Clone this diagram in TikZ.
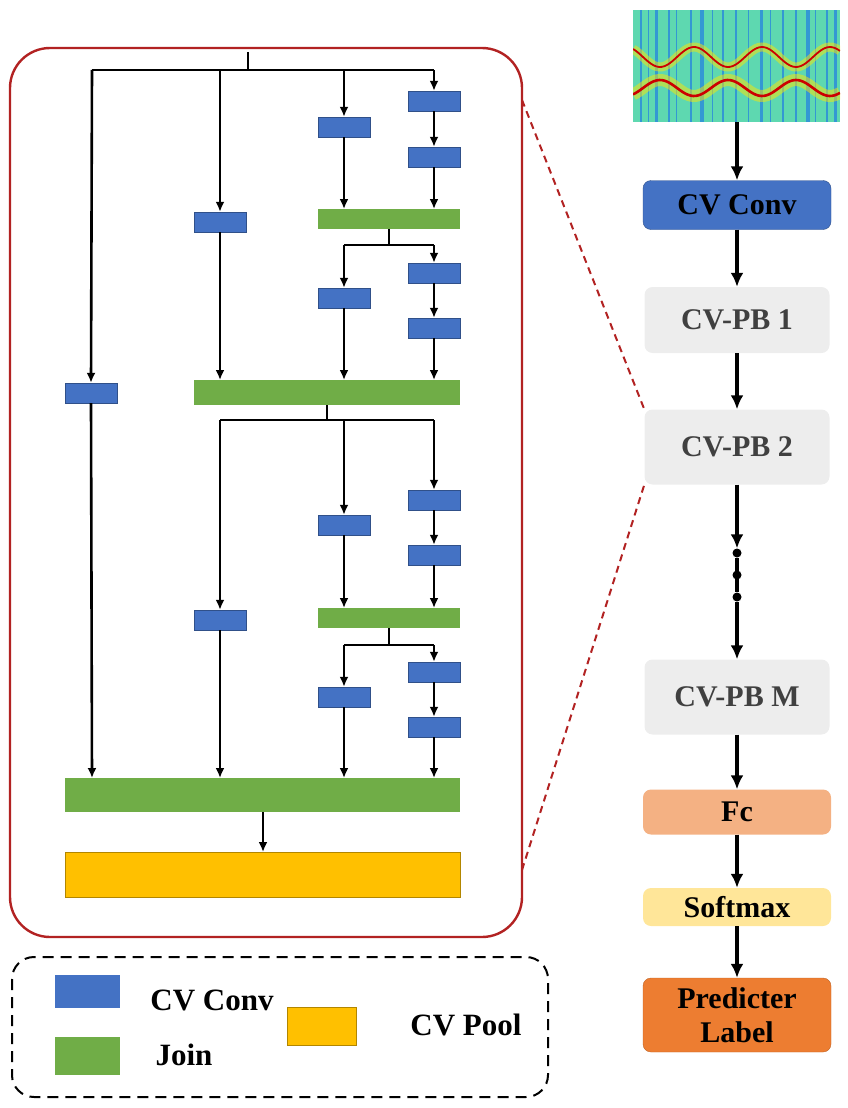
\documentclass[tikz,border=0pt]{standalone}
\usepackage{fontspec}
\setmainfont{Liberation Serif}
\usetikzlibrary{arrows.meta}
\definecolor{cvblue}{HTML}{4472C4}
\definecolor{cvgreen}{HTML}{70AD47}
\definecolor{cvyellow}{HTML}{FFC000}
\definecolor{pbgray}{HTML}{EDEDED}
\definecolor{fcc}{HTML}{F4B183}
\definecolor{smc}{HTML}{FFE699}
\definecolor{plc}{HTML}{ED7D31}
\definecolor{frame}{HTML}{B22222}
\definecolor{specbg}{HTML}{5ED8B0}
\tikzset{
 blk/.style={draw=cvblue!70!black,line width=0.4pt,fill=cvblue,minimum width=52pt,minimum height=20pt,inner sep=0pt},
 grn/.style={fill=cvgreen,inner sep=0pt,anchor=north west},
 ar/.style={line width=2.6pt,-{Latex[length=10pt,width=9pt]}},
 ln/.style={line width=2.6pt},
 rar/.style={line width=3.4pt,-{Latex[length=14pt,width=13pt]}},
 rbox/.style={rounded corners=8pt,minimum width=188pt,font=\fontsize{30}{34}\selectfont\bfseries,align=center,inner sep=0pt},
 lab/.style={font=\fontsize{31}{36}\selectfont\bfseries}
}
\begin{document}
\begin{tikzpicture}[x=1pt,y=-1pt]
\useasboundingbox (0,0) rectangle (848,1108);
% frame
\draw[frame,line width=2.4pt,rounded corners=40pt] (10,48) rectangle (522,937);
% blocks
\newcommand{\bb}[3]{\node[blk] (#1) at (#2,#3) {};}
\bb{a1}{434}{101}\bb{a2}{344}{127}\bb{a3}{434}{157}\bb{a4}{220}{222}
\bb{b1}{434}{273}\bb{b2}{344}{298}\bb{b3}{434}{328}\bb{left}{91}{393}
\bb{c1}{434}{500}\bb{c2}{344}{525}\bb{c3}{434}{555}\bb{c4}{220}{620}
\bb{d1}{434}{672}\bb{d2}{344}{697}\bb{d3}{434}{727}
\node[grn,minimum width=142pt,minimum height=20pt] (g1) at (318,209) {};
\node[grn,minimum width=266pt,minimum height=25pt] (g2) at (194,380) {};
\node[grn,minimum width=142pt,minimum height=20pt] (g3) at (318,608) {};
\node[grn,minimum width=395pt,minimum height=34pt] (g4) at (65,778) {};
\node[fill=cvyellow,draw=cvyellow!70!black,line width=0.4pt,inner sep=0pt,anchor=north west,minimum width=395pt,minimum height=45pt] (pool) at (65,852) {};
% top part
\coordinate (in) at (248,52);
\draw[ln] (in) -- (248,70);
\draw[ln] (92,70) -- (434,70);
\draw[ar] (92,70) -- (left.north);
\draw[ar] (220,70) -- (a4.north);
\draw[ar] (344,70) -- (a2.north);
\draw[ar] (434,70) -- (a1.north);
\draw[ar] (a1) -- (a3);
\draw[ar] (a3.south) -- (434,209);
\draw[ar] (a2.south) -- (344,209);
\draw[ln] (389,229) -- (389,245);
\draw[ln] (344,245) -- (434,245);
\draw[ar] (344,245) -- (b2.north);
\draw[ar] (434,245) -- (b1.north);
\draw[ar] (b1) -- (b3);
\draw[ar] (b3.south) -- (434,380);
\draw[ar] (b2.south) -- (344,380);
\draw[ar] (a4.south) -- (220,380);
\draw[ar] (left.south) -- (92,778);
% second part
\draw[ln] (327,405) -- (327,420);
\draw[ln] (220,420) -- (434,420);
\draw[ar] (220,420) -- (c4.north);
\draw[ar] (344,420) -- (c2.north);
\draw[ar] (434,420) -- (c1.north);
\draw[ar] (c1) -- (c3);
\draw[ar] (c3.south) -- (434,608);
\draw[ar] (c2.south) -- (344,608);
\draw[ln] (389,628) -- (389,645);
\draw[ln] (344,645) -- (434,645);
\draw[ar] (344,645) -- (d2.north);
\draw[ar] (434,645) -- (d1.north);
\draw[ar] (d1) -- (d3);
\draw[ar] (d3.south) -- (434,778);
\draw[ar] (d2.south) -- (344,778);
\draw[ar] (c4.south) -- (220,778);
\draw[ar] (263,812) -- (263,852);
% legend
\draw[line width=2pt,dash pattern=on 11pt off 7pt,rounded corners=22pt] (12,957) rectangle (548,1097);
\node[fill=cvblue,inner sep=0pt,minimum width=65pt,minimum height=33pt] (lb) at (87,991) {};
\node[fill=cvgreen,inner sep=0pt,minimum width=65pt,minimum height=38pt] (lg) at (87,1056) {};
\node[fill=cvyellow,draw=cvyellow!70!black,line width=0.4pt,inner sep=0pt,minimum width=69pt,minimum height=38pt] (ly) at (322,1026) {};
\node[lab] (t1) at (212,1000) {CV Conv};
\node[lab] (t2) at (184,1055) {Join};
\node[lab] (t3) at (466,1025) {CV Pool};
% spectrogram
\begin{scope}
\clip (633,10) rectangle (840,122);
\fill[specbg] (633,10) rectangle (840,122);
\foreach \x/\w in {640/2,648/1,655/3,668/2,676/1,690/2,700/4,712/1,722/2,735/2,748/1,760/3,770/1,782/2,795/2,806/4,815/1,826/2,834/3}
  \fill[blue!70!cyan,opacity=0.45] (\x,10) rectangle (\x+\w,122);
\draw[yellow!90!orange,line width=9pt,opacity=0.5,domain=633:840,samples=80] plot (\x,{57+10*cos(5.294*(\x-660))});
\draw[red!80!black,line width=1.8pt,domain=633:840,samples=80] plot (\x,{57+10*cos(5.294*(\x-660))});
\draw[yellow!90!orange,line width=12pt,opacity=0.5,domain=633:840,samples=80] plot (\x,{88-8*cos(5.294*(\x-660))});
\draw[red!80!black,line width=2.6pt,domain=633:840,samples=80] plot (\x,{88-8*cos(5.294*(\x-660))});
\end{scope}
\coordinate (spec) at (737,122);
% right column
\node[rbox,fill=cvblue,draw=cvblue!70!black,minimum height=49pt] (conv) at (737,205) {CV Conv};
\node[rbox,fill=pbgray,text=black!75,minimum height=66pt,minimum width=185pt] (pb1) at (737,320) {CV-PB 1};
\node[rbox,fill=pbgray,text=black!75,minimum height=75pt,minimum width=185pt] (pb2) at (737,447) {CV-PB 2};
\node[circle,fill=black,inner sep=0pt,minimum size=9pt] (d1c) at (737,553) {};
\node[circle,fill=black,inner sep=0pt,minimum size=9pt] (d2c) at (737,575) {};
\node[circle,fill=black,inner sep=0pt,minimum size=9pt] (d3c) at (737,597) {};
\node[rbox,fill=pbgray,text=black!75,minimum height=75pt,minimum width=185pt] (pbm) at (737,697) {CV-PB M};
\node[rbox,fill=fcc,minimum height=45pt] (fc) at (737,812) {Fc};
\node[rbox,fill=smc,minimum height=38pt] (sm) at (737,907) {Softmax};
\node[rbox,fill=plc,draw=plc!80!black,minimum height=74pt] (pl) at (737,1015) {Predicter\\Label};
\draw[rar] (spec) -- (conv);
\draw[rar] (conv) -- (pb1);
\draw[rar] (pb1) -- (pb2);
\draw[rar] (pb2) -- (d1c);
\draw[line width=3.4pt] (d1c) -- (d3c);
\draw[rar] (d3c) -- (pbm);
\draw[rar] (pbm) -- (fc);
\draw[rar] (fc) -- (sm);
\draw[rar] (sm) -- (pl);
% zoom lines
\draw[frame,line width=2pt,dash pattern=on 7pt off 5pt] (522,100) -- (pb2.north west);
\draw[frame,line width=2pt,dash pattern=on 7pt off 5pt] (522,870) -- (pb2.south west);
\end{tikzpicture}
\end{document}
